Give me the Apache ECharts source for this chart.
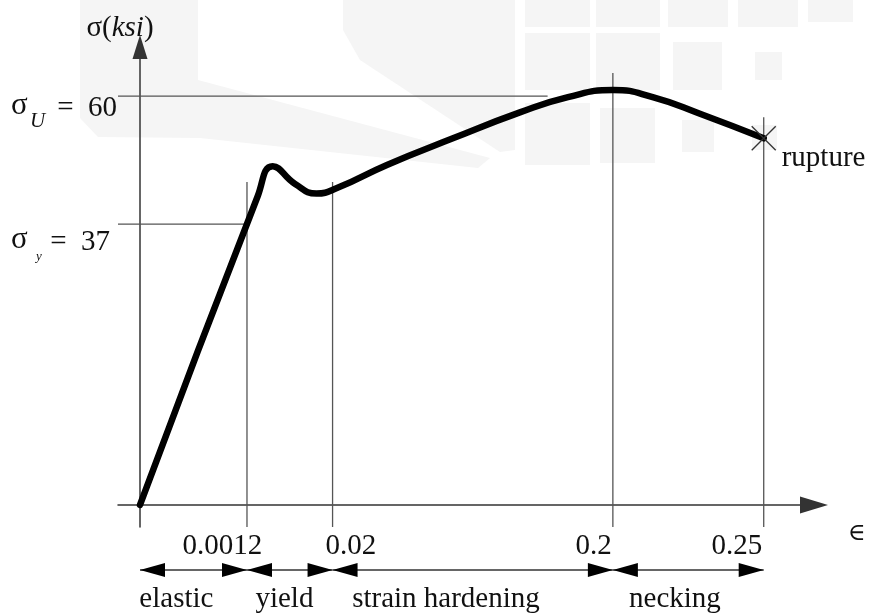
<!DOCTYPE html>
<html lang="en">
<head>
    <meta charset="UTF-8">
    <title>Stress-strain diagram</title>
    <script src="https://cdn.jsdelivr.net/npm/echarts@6/dist/echarts.min.js"></script>
    <style>
        html, body { margin: 0; padding: 0; background: #fff; }
        #main { width: 870px; height: 615px; }
    </style>
</head>
<body>
<div id="main"></div>
<script>
    // schematic diagram: strain axis is not to scale, so x values are positions along the drawn axis
    var strainAt = [1.0, 1.8, 4.42, 5.83];              // where the strain marks sit
    var strainLabels = ['0.0012', '0.02', '0.2', '0.25'];
    var strainLabelAt = [0.77, 1.97, 4.24, 5.58];       // centre of each tick label
    var guideTop = [47.4, 47.4, 63.4, 56.9];            // how high each vertical guide reaches
    var epsAt = 6.70;                                   // strain symbol past the arrow

    var stressLevels = [60, 41.2];                      // drawn height of sigma_U and sigma_y
    var stressSub = ['U', 'y'];
    var stressValues = ['60', '37'];
    var stressGuideEnd = [3.81, 1.0];

    var regionNames = ['elastic', 'yield', 'strain hardening', 'necking'];
    var regionBounds = [0, 1.0, 1.8, 4.42, 5.83];
    var regionLabelAt = [0.34, 1.35, 2.86, 5.0];

    var curveStrain = [0, 1.1, 1.24, 1.45, 1.65, 1.841, 2.308, 2.925, 3.551, 4.0, 4.421, 4.8, 5.234, 5.83];
    var curveStress = [0, 45.3, 49.7, 47.1, 45.7, 46.5, 49.9, 53.8, 57.6, 59.85, 60.9, 59.8, 57.4, 53.8];

    var xMin = -0.2056, xMax = 6.3, yMin = -3.23, yMax = 67.2;
    var FONT = '29px "Liberation Serif", "DejaVu Serif", serif';
    var INK = '#111';
    var GUIDE = '#555';

    var curveData = [];
    for (var i = 0; i < curveStrain.length; i++) {
        curveData.push([curveStrain[i], curveStress[i]]);
    }
    var rupture = curveData[curveData.length - 1];

    var myChart = echarts.init(document.getElementById('main'), null, {renderer: 'canvas'});

    // faint watermark in the background
    var wm = '#f5f5f5';
    var squares = [
        [525, 0, 65, 27], [596, 0, 64, 27], [668, 0, 60, 27], [738, 0, 60, 27], [808, 0, 45, 22],
        [525, 33, 65, 57], [596, 33, 64, 57], [673, 42, 49, 48], [755, 52, 27, 28],
        [525, 103, 65, 62], [600, 108, 55, 55], [682, 120, 32, 32], [752, 125, 25, 25]
    ];
    var graphics = squares.map(function (s) {
        return {type: 'rect', z: -10, shape: {x: s[0], y: s[1], width: s[2], height: s[3]}, style: {fill: wm}};
    });
    graphics.push({type: 'polygon', z: -10, shape: {points: [[80, 0], [198, 0], [198, 80], [490, 158], [478, 168], [200, 138], [98, 137], [80, 118]]}, style: {fill: wm}});
    graphics.push({type: 'polygon', z: -10, shape: {points: [[343, 0], [515, 0], [515, 150], [500, 152], [360, 60], [343, 30]]}, style: {fill: wm}});

    var option = {
        animation: false,
        backgroundColor: '#fff',
        graphic: graphics,
        grid: {left: 118, right: 56, top: 47, bottom: 88},
        xAxis: {
            type: 'value', min: xMin, max: xMax,
            axisLine: {onZero: true, symbol: ['none', 'triangle'], symbolSize: [17, 28], lineStyle: {color: '#333', width: 1.5}},
            axisTick: {show: false}, axisLabel: {show: false}, splitLine: {show: false}
        },
        yAxis: {
            type: 'value', min: yMin, max: yMax,
            axisLine: {onZero: true, symbol: ['none', 'triangle'], symbolSize: [15, 24], lineStyle: {color: '#333', width: 1.5}},
            axisTick: {show: false}, axisLabel: {show: false}, splitLine: {show: false},
            name: '{n|σ(}{i|ksi}{n|)}', nameLocation: 'end', nameGap: 4,
            nameTextStyle: {
                padding: [0, 40, 0, 0],
                rich: {
                    n: {fontFamily: '"Liberation Serif", serif', fontSize: 29, color: INK},
                    i: {fontFamily: '"Liberation Serif", serif', fontSize: 29, fontStyle: 'italic', color: INK}
                }
            }
        },
        series: [
            {
                // vertical guides at each strain mark, with the tick labels
                type: 'custom', z: 2, silent: true,
                data: strainAt.map(function (x, k) { return [x, guideTop[k]]; }),
                renderItem: function (params, api) {
                    var k = params.dataIndex;
                    var a = api.coord([api.value(0), yMin]);
                    var b = api.coord([api.value(0), api.value(1)]);
                    var lp = api.coord([strainLabelAt[k], 0]);
                    return {
                        type: 'group', children: [
                            {type: 'line', shape: {x1: a[0], y1: a[1], x2: b[0], y2: b[1]}, style: {stroke: GUIDE, lineWidth: 1.3}},
                            {type: 'text', style: {x: lp[0], y: lp[1] + 41, text: strainLabels[k], font: FONT, fill: INK, align: 'center', verticalAlign: 'middle'}}
                        ]
                    };
                }
            },
            {
                // strain symbol beyond the end of the axis
                type: 'custom', z: 2, silent: true,
                data: [[epsAt, 0]],
                renderItem: function (params, api) {
                    var p = api.coord([api.value(0), api.value(1)]);
                    return {type: 'text', style: {x: p[0], y: p[1] + 29, text: '∈', font: '24px "DejaVu Serif", serif', fill: INK, align: 'center', verticalAlign: 'middle'}};
                }
            },
            {
                // horizontal guides for the two stress levels, with their labels
                type: 'custom', z: 2, silent: true,
                data: stressLevels.map(function (y, k) { return [stressGuideEnd[k], y]; }),
                renderItem: function (params, api) {
                    var k = params.dataIndex;
                    var a = api.coord([xMin, api.value(1)]);
                    var b = api.coord([api.value(0), api.value(1)]);
                    var dy = k === 0 ? 12 : 18;
                    var ty = a[1] + dy;
                    return {
                        type: 'group', children: [
                            {type: 'line', shape: {x1: a[0], y1: a[1], x2: b[0], y2: b[1]}, style: {stroke: GUIDE, lineWidth: 1.3}},
                            {type: 'text', style: {x: a[0] - 107, y: ty - 2, text: 'σ', font: '31px "Liberation Serif", serif', fill: INK, align: 'left', verticalAlign: 'middle'}},
                            {type: 'text', style: {x: a[0] - 88 + (k === 0 ? 0 : 6), y: ty + (k === 0 ? 13 : 14), text: stressSub[k],
                                font: 'italic ' + (k === 0 ? 21 : 13) + 'px "Liberation Serif", serif', fill: INK, align: 'left', verticalAlign: 'middle'}},
                            {type: 'text', style: {x: a[0] - (k === 0 ? 1 : 8), y: ty, text: '=  ' + stressValues[k], font: FONT, fill: INK, align: 'right', verticalAlign: 'middle'}}
                        ]
                    };
                }
            },
            {
                // double-headed arrows naming each region of the curve
                type: 'custom', z: 2, silent: true,
                data: regionNames.map(function (n, k) { return [regionBounds[k], regionBounds[k + 1], regionLabelAt[k]]; }),
                renderItem: function (params, api) {
                    var k = params.dataIndex;
                    var a = api.coord([api.value(0), 0]);
                    var b = api.coord([api.value(1), 0]);
                    var c = api.coord([api.value(2), 0]);
                    var y = a[1] + 65, L = 25, H = 7;
                    return {
                        type: 'group', children: [
                            {type: 'line', shape: {x1: a[0], y1: y, x2: b[0], y2: y}, style: {stroke: '#333', lineWidth: 1.5}},
                            {type: 'polygon', shape: {points: [[a[0], y], [a[0] + L, y - H], [a[0] + L, y + H]]}, style: {fill: '#000'}},
                            {type: 'polygon', shape: {points: [[b[0], y], [b[0] - L, y - H], [b[0] - L, y + H]]}, style: {fill: '#000'}},
                            {type: 'text', style: {x: c[0], y: y + 29, text: regionNames[k], font: FONT, fill: INK, align: 'center', verticalAlign: 'middle'}}
                        ]
                    };
                }
            },
            {
                type: 'line', z: 5, silent: true,
                data: curveData,
                showSymbol: false, smooth: 0.5,
                lineStyle: {color: '#000', width: 6.5, cap: 'round', join: 'round'}
            },
            {
                // rupture mark at the end of the curve
                type: 'custom', z: 6, silent: true,
                data: [rupture],
                renderItem: function (params, api) {
                    var p = api.coord([api.value(0), api.value(1)]);
                    var s = 12;
                    return {
                        type: 'group', children: [
                            {type: 'line', shape: {x1: p[0] - s, y1: p[1] - s, x2: p[0] + s, y2: p[1] + s}, style: {stroke: '#333', lineWidth: 1.4}},
                            {type: 'line', shape: {x1: p[0] - s, y1: p[1] + s, x2: p[0] + s, y2: p[1] - s}, style: {stroke: '#333', lineWidth: 1.4}},
                            {type: 'text', style: {x: p[0] + 18, y: p[1] + 20, text: 'rupture', font: FONT, fill: INK, align: 'left', verticalAlign: 'middle'}}
                        ]
                    };
                }
            }
        ]
    };
    myChart.setOption(option);
</script>
</body>
</html>
